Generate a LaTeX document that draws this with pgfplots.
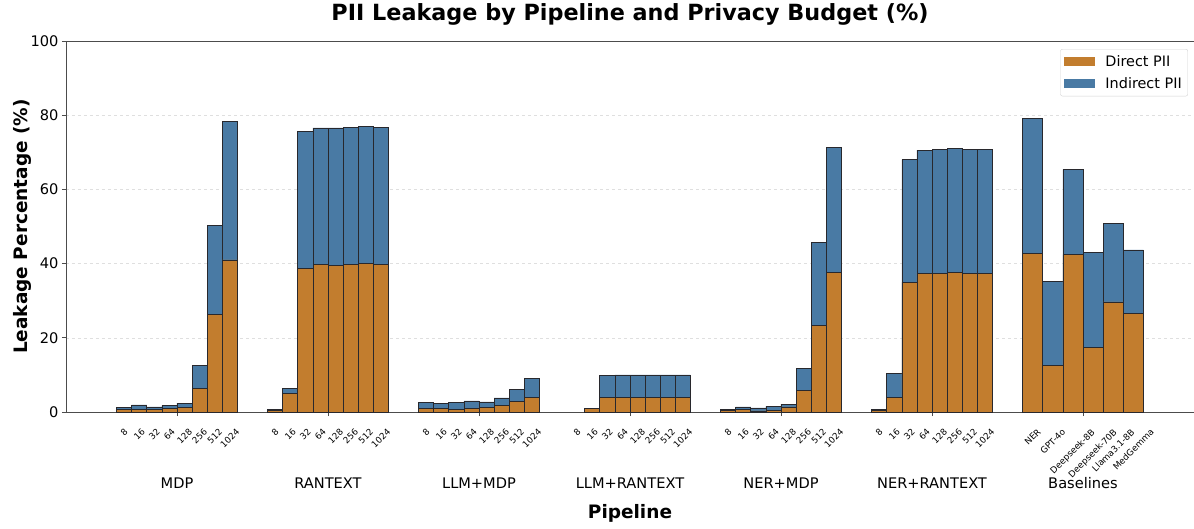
\documentclass[border=0pt]{standalone}
\usepackage{fontspec}
\setmainfont{DejaVu Sans}
\usepackage{graphicx}
\usepackage{pgfplots}
\usepackage{pgfplotstable}
\pgfplotsset{compat=1.18}
\definecolor{cdir}{RGB}{194,125,46}
\definecolor{cind}{RGB}{73,122,164}
\definecolor{cedge}{RGB}{40,40,45}

% Direct / indirect PII leakage (%) per privacy budget, six DP pipelines
\pgfplotstableread{
x     direct indirect
-3.5  0.6   0.7
-2.5  0.8   1.1
-1.5  0.6   0.8
-0.5  1.0   0.8
0.5   1.3   1.1
1.5   6.4   6.1
2.5   26.3  24.1
3.5   41.0  37.4
6.5   0.5   0.1
7.5   5.0   1.4
8.5   38.8  36.9
9.5   39.7  36.9
10.5  39.6  37.0
11.5  39.8  36.9
12.5  40.1  36.8
13.5  39.8  36.9
16.5  1.0   1.5
17.5  0.9   1.4
18.5  0.7   1.8
19.5  1.0   2.0
20.5  1.3   1.4
21.5  1.7   2.1
22.5  2.9   3.2
23.5  4.0   5.1
27.5  1.0   0.0
28.5  3.9   6.0
29.5  3.9   6.1
30.5  3.9   6.1
31.5  3.9   6.1
32.5  3.9   6.1
33.5  3.9   6.1
36.5  0.4   0.4
37.5  0.7   0.7
38.5  0.3   0.8
39.5  0.5   1.1
40.5  1.4   0.7
41.5  5.8   6.0
42.5  23.4  22.4
43.5  37.7  33.7
46.5  0.5   0.1
47.5  4.0   6.4
48.5  35.0  33.0
49.5  37.4  33.2
50.5  37.4  33.4
51.5  37.6  33.5
52.5  37.4  33.4
53.5  37.4  33.4
}\dpdata

% Baselines
\pgfplotstableread{
x        direct indirect
56.6667  42.8   36.4
58.0     12.5   22.8
59.3333  42.5   22.9
60.6667  17.4   25.7
62.0     29.7   21.1
63.3333  26.6   17.1
}\basedata

\begin{document}
\begin{tikzpicture}
\useasboundingbox (-66pt,-116pt) rectangle (1128pt,412pt);
\begin{axis}[
  at={(0,0)}, anchor=south west,
  scale only axis, width=1128pt, height=371pt,
  xmin=-7.35, xmax=67.35, ymin=0, ymax=100,
  axis x line*=box, axis y line*=left,
  axis line style={draw=black!70, line width=0.8pt},
  xtick pos=left, ytick pos=left,
  tick align=outside, major tick length=4pt,
  tick style={draw=black!70, line width=0.8pt},
  ytick={0,20,40,60,80,100},
  yticklabel style={font=\fontsize{14.6}{17}\selectfont},
  /pgf/number format/assume math mode=true,
  ymajorgrids, grid style={dashed, gray!25, line width=0.5pt},
  xtick={0,10,20,30,40,50,60},
  xticklabels={MDP,RANTEXT,LLM+MDP,LLM+RANTEXT,NER+MDP,NER+RANTEXT,Baselines},
  xticklabel style={font=\fontsize{14.6}{17}\selectfont, anchor=base},
  xticklabel shift=72pt,
  extra x ticks={-3.5,-2.5,-1.5,-0.5,0.5,1.5,2.5,3.5,
    6.5,7.5,8.5,9.5,10.5,11.5,12.5,13.5,
    16.5,17.5,18.5,19.5,20.5,21.5,22.5,23.5,
    26.5,27.5,28.5,29.5,30.5,31.5,32.5,33.5,
    36.5,37.5,38.5,39.5,40.5,41.5,42.5,43.5,
    46.5,47.5,48.5,49.5,50.5,51.5,52.5,53.5,
    56.6667,58.0,59.3333,60.6667,62.0,63.3333},
  extra x tick labels={
    \rotatebox{45}{8},\rotatebox{45}{16},\rotatebox{45}{32},\rotatebox{45}{64},\rotatebox{45}{128},\rotatebox{45}{256},\rotatebox{45}{512},\rotatebox{45}{1024},
    \rotatebox{45}{8},\rotatebox{45}{16},\rotatebox{45}{32},\rotatebox{45}{64},\rotatebox{45}{128},\rotatebox{45}{256},\rotatebox{45}{512},\rotatebox{45}{1024},
    \rotatebox{45}{8},\rotatebox{45}{16},\rotatebox{45}{32},\rotatebox{45}{64},\rotatebox{45}{128},\rotatebox{45}{256},\rotatebox{45}{512},\rotatebox{45}{1024},
    \rotatebox{45}{8},\rotatebox{45}{16},\rotatebox{45}{32},\rotatebox{45}{64},\rotatebox{45}{128},\rotatebox{45}{256},\rotatebox{45}{512},\rotatebox{45}{1024},
    \rotatebox{45}{8},\rotatebox{45}{16},\rotatebox{45}{32},\rotatebox{45}{64},\rotatebox{45}{128},\rotatebox{45}{256},\rotatebox{45}{512},\rotatebox{45}{1024},
    \rotatebox{45}{8},\rotatebox{45}{16},\rotatebox{45}{32},\rotatebox{45}{64},\rotatebox{45}{128},\rotatebox{45}{256},\rotatebox{45}{512},\rotatebox{45}{1024},
    \rotatebox{45}{NER},\rotatebox{45}{GPT-4o},\rotatebox{45}{Deepseek-8B},\rotatebox{45}{Deepseek-70B},\rotatebox{45}{Llama3.1-8B},\rotatebox{45}{MedGemma}},
  extra x tick style={major tick length=0pt,
    xticklabel style={font=\fontsize{8.8}{10.5}\selectfont, anchor=north, inner sep=0pt},
    xticklabel shift=16pt},
  title={PII Leakage by Pipeline and Privacy Budget (\%)},
  title style={font=\fontsize{22.3}{26}\selectfont\bfseries, at={(axis description cs:0.5,1.0404)}, anchor=base},
  xlabel={Pipeline},
  xlabel style={font=\fontsize{18.5}{22}\selectfont\bfseries, at={(axis description cs:0.5,-0.2857)}, anchor=base},
  ylabel={Leakage Percentage (\%)},
  ylabel style={font=\fontsize{18.5}{22}\selectfont\bfseries, at={(axis description cs:-0.039,0.5)}, anchor=center},
  legend style={at={(axis description cs:1,1)}, anchor=north east, xshift=-6pt, yshift=-8pt,
    draw=gray!35, rounded corners=2pt, fill=white,
    font=\fontsize{14.4}{17}\selectfont, inner xsep=4pt, inner ysep=4pt, row sep=6pt,
    cells={anchor=west}},
]
\addplot[ybar, bar shift=0pt, bar width=1, fill=cind, draw=cedge, line width=0.6pt, forget plot]
  table[x=x, y expr=\thisrow{direct}+\thisrow{indirect}] {\dpdata};
\addplot[ybar, bar shift=0pt, bar width=1, fill=cdir, draw=cedge, line width=0.6pt, forget plot]
  table[x=x, y=direct] {\dpdata};
\addplot[ybar, bar shift=0pt, bar width=1.3333, fill=cind, draw=cedge, line width=0.6pt, forget plot]
  table[x=x, y expr=\thisrow{direct}+\thisrow{indirect}] {\basedata};
\addplot[ybar, bar shift=0pt, bar width=1.3333, fill=cdir, draw=cedge, line width=0.6pt, forget plot]
  table[x=x, y=direct] {\basedata};
\addlegendimage{legend image code/.code={\fill[cdir, draw=none, sharp corners] (0pt,-4.5pt) rectangle (31pt,4.5pt); \path[draw=none, fill=none] (0pt,0pt) rectangle (39pt,0.1pt);}}
\addlegendentry{Direct PII}
\addlegendimage{legend image code/.code={\fill[cind, draw=none, sharp corners] (0pt,-4.5pt) rectangle (31pt,4.5pt); \path[draw=none, fill=none] (0pt,0pt) rectangle (39pt,0.1pt);}}
\addlegendentry{Indirect PII}
\end{axis}
\end{tikzpicture}
\end{document}
